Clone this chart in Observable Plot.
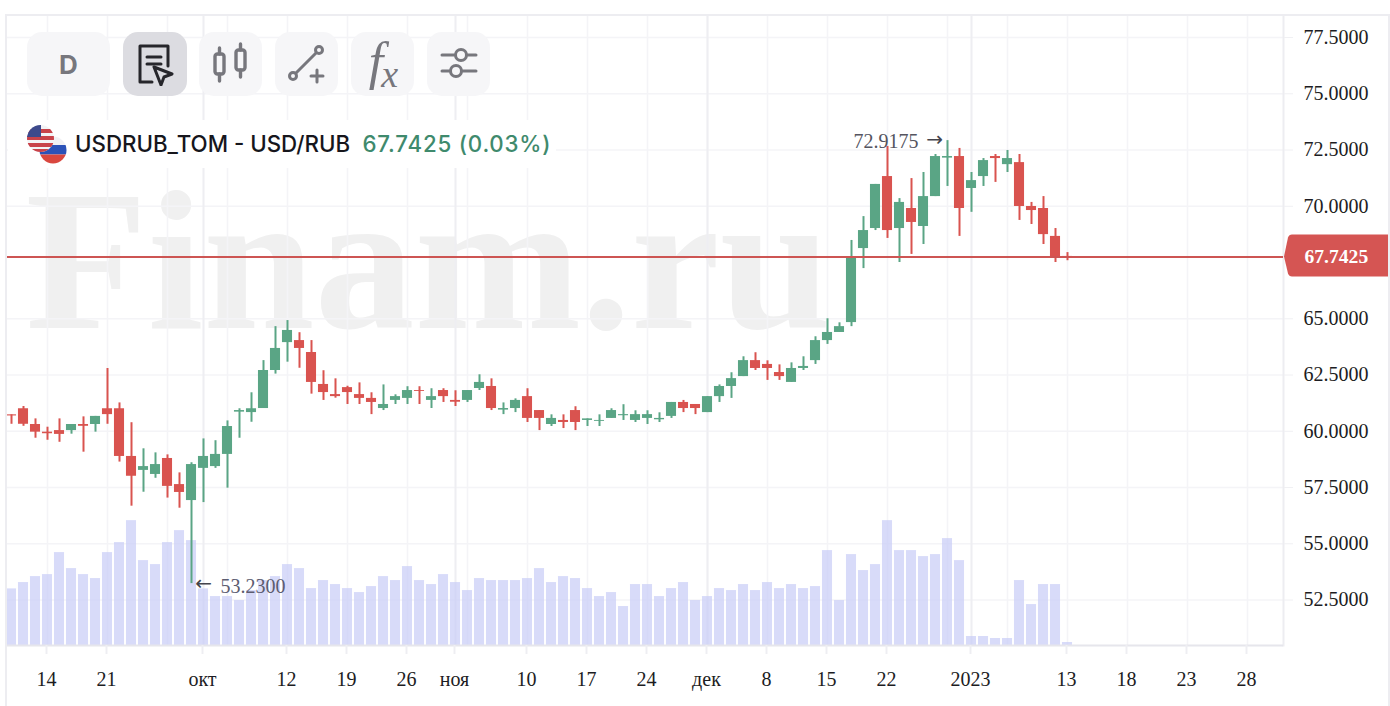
<!DOCTYPE html>
<html><head><meta charset="utf-8">
<script src="https://cdn.jsdelivr.net/npm/d3@7"></script>
<script src="https://cdn.jsdelivr.net/npm/@observablehq/plot@0.6"></script>
<style>
html,body{margin:0;padding:0;background:#fff;overflow:hidden}
#wrap{position:relative;width:1390px;height:706px;font-family:Inter,sans-serif}
#wrap svg{display:block}
.btn{position:absolute;top:32px;width:63px;height:64px;border-radius:15px;background:rgba(245,245,248,.95);display:flex;align-items:center;justify-content:center}
#legend{position:absolute;left:8px;top:120px;width:548px;height:48px;background:#fff;}
#legend .t{position:absolute;left:67px;top:10px;font-size:22.3px;line-height:28px;font-weight:500;color:#16161c;white-space:nowrap}
#legend .v{position:absolute;left:354.5px;top:10px;font-size:22.3px;line-height:28px;font-weight:500;color:#3f8a6d;white-space:nowrap;letter-spacing:.8px}
</style></head><body>
<div id="wrap"></div>
<script>
const open = [60.73,61.00,60.30,59.96,60.03,60.03,60.30,60.30,61.00,61.00,58.88,58.26,58.08,58.79,57.63,56.92,58.35,58.43,58.97,60.85,60.83,61.01,62.70,63.94,64.03,63.50,62.08,61.63,61.94,61.63,61.46,61.01,61.37,61.46,61.81,61.37,61.81,61.37,61.37,61.90,61.99,60.94,61.01,61.54,60.92,60.30,60.48,60.92,60.48,60.44,60.57,60.69,60.48,60.57,60.51,60.66,61.28,61.19,60.83,61.54,61.99,62.43,63.14,62.97,62.61,62.17,62.79,63.14,64.03,64.39,64.83,68.12,69.01,71.32,69.01,69.90,69.10,70.43,72.14,72.21,70.79,71.32,72.21,71.85,71.94,69.99,69.90,68.66,67.77];
const high = [60.73,61.10,60.55,60.18,60.55,60.30,60.64,60.66,62.79,61.26,60.38,59.22,59.04,58.95,58.15,58.60,59.66,59.58,60.46,61.00,61.71,63.14,64.65,64.92,64.38,64.03,62.69,62.33,62.00,62.15,61.71,62.06,61.62,61.98,61.98,61.89,61.89,61.80,61.81,62.51,62.33,61.26,61.44,61.89,60.92,60.73,60.73,61.09,60.55,60.73,61.00,61.18,60.91,60.91,60.82,61.28,61.37,61.19,61.54,62.06,62.60,63.31,63.49,63.13,62.95,63.04,63.31,64.20,65.00,64.82,68.48,69.54,70.97,72.66,70.34,71.23,71.50,72.30,72.9175,72.57,71.50,72.12,72.30,72.48,72.30,70.17,70.43,69.01,67.94];
const low = [60.31,60.22,59.69,59.60,59.51,59.87,59.07,59.96,60.31,58.63,56.67,57.29,57.91,57.03,56.58,53.23,56.83,58.35,57.47,59.69,60.40,61.01,62.54,63.07,62.80,61.65,61.37,61.47,61.19,61.19,60.74,60.92,61.19,61.19,61.19,61.01,61.28,61.10,61.28,61.81,60.92,60.74,60.83,60.39,60.03,60.21,60.12,60.03,60.21,60.21,60.57,60.48,60.39,60.30,60.39,60.57,60.83,60.74,60.83,61.28,61.46,62.43,62.70,62.26,62.26,62.17,62.70,62.97,63.86,64.39,64.65,67.23,68.92,68.57,67.50,67.86,68.30,70.43,70.88,68.66,69.73,70.88,71.06,71.50,69.37,69.19,68.30,67.50,67.58];
const close = [60.68,60.31,59.96,59.89,59.86,60.30,60.22,60.66,60.74,58.88,58.00,58.43,58.52,57.55,57.28,58.52,58.88,58.97,60.21,60.92,61.00,62.70,63.68,64.48,63.68,62.17,61.72,61.54,61.72,61.46,61.28,61.19,61.54,61.81,61.77,61.54,61.54,61.29,61.81,62.17,61.01,61.01,61.37,60.57,60.57,60.57,60.39,60.39,60.55,60.48,60.92,60.74,60.74,60.74,60.57,61.28,61.01,61.01,61.54,61.99,62.34,63.14,62.79,62.79,62.43,62.79,62.88,64.03,64.39,64.65,67.72,68.92,70.97,68.92,70.17,69.28,70.43,72.21,72.21,69.90,71.14,72.03,72.12,72.12,69.99,69.81,68.74,67.72,67.7425];
const volume = [170,189,207,213,279,231,213,201,279,309,375,255,243,309,345,315,170,147,147,135,165,195,207,243,231,171,195,183,171,159,177,207,195,237,195,183,213,189,165,201,195,195,195,201,231,189,207,201,171,147,159,117,183,183,147,171,189,135,147,171,165,183,165,189,171,183,171,177,285,135,273,225,243,375,285,285,267,273,321,255,27,27,21,21,195,123,183,183,9];

const tickIndex = [3,8,16,23,28,33,37,43,48,53,58,63,68,73,80,88,93,98,103];
const tickLabels = ["14","21","окт","12","19","26","ноя","10","17","24","дек","8","15","22","2023","13","18","23","28"];
const weeklyGrid = [3,8,13,18,23,28,33,38,43,48,53,58,63,68,73,78,83,88,93,98,103];
const monthGrid = [16,37,58,80];
const priceTicks = [52.5,55,57.5,60,62.5,65,70,72.5,75,77.5];
const lastPrice = 67.7425, maxPrice = 72.9175, minPrice = 53.23;
const volumeFloor = 50.478, priceUnitsPerVolume = 0.0148;

const candles = open.map((o,i)=>({i,o,h:high[i],l:low[i],c:close[i],v:volume[i],up:close[i]>=o}));
const green="#5aa585", red="#d9534f", serif='"Liberation Serif",serif';

const chart = Plot.plot({
  width:1390,height:706,marginLeft:7,marginRight:107,marginTop:15,marginBottom:61,
  style:{fontFamily:serif,fontSize:"20px",color:"#1c1c22",background:"transparent",overflow:"visible"},
  x:{type:"linear",domain:[-1/3,106],axis:null},
  y:{type:"linear",domain:[volumeFloor,78.478],axis:null},
  marks:[
    Plot.text(["Finam.ru"],{frameAnchor:"top-left",dx:18,dy:248,fontSize:200,fontWeight:700,fontFamily:serif,fill:"#f0f0f0",textAnchor:"start",lineAnchor:"middle"}),
    Plot.gridY(priceTicks,{stroke:"#f4f4f7",strokeOpacity:1,strokeWidth:1.6}),
    Plot.gridX(weeklyGrid,{stroke:"#f4f4f7",strokeOpacity:1,strokeWidth:1.6}),
    Plot.gridX(monthGrid,{stroke:"#eeeef2",strokeOpacity:1,strokeWidth:2}),
    Plot.frame({anchor:"right",stroke:"#ededf1",strokeWidth:2}),
    Plot.rect(candles,{x1:d=>d.i-0.42,x2:d=>d.i+0.42,y1:volumeFloor,y2:d=>volumeFloor+d.v*priceUnitsPerVolume,fill:"#c9cdf6",fillOpacity:.72,inset:0}),
    Plot.ruleY([volumeFloor],{stroke:"#e6e6ec",strokeWidth:2}),
    Plot.ruleX(candles,{x:"i",y1:"l",y2:"h",stroke:d=>d.up?green:red,strokeWidth:2}),
    Plot.rect(candles,{x1:d=>d.i-0.42,x2:d=>d.i+0.42,y1:"o",y2:"c",fill:d=>d.up?green:red,inset:0}),
    Plot.ruleY([lastPrice],{stroke:"#cd5553",strokeWidth:2}),
    Plot.axisX({ticks:tickIndex,tickFormat:d=>tickLabels[tickIndex.indexOf(d)],label:null,tickSize:9,tickPadding:17,stroke:"#eeeef2",strokeWidth:2,fill:"#1c1c22",fontSize:20,dx:-1}),
    Plot.axisY({anchor:"right",ticks:priceTicks,tickFormat:d=>d.toFixed(4),label:null,tickSize:9,tickPadding:11,stroke:"#f0f0f3",fill:"#1c1c22",fontSize:20,textAnchor:"start"}),
    (index,{x,y}) => {
      const yy=y(lastPrice), x0=x(106);
      const g=document.createElementNS("http://www.w3.org/2000/svg","g");
      const p=document.createElementNS("http://www.w3.org/2000/svg","path");
      p.setAttribute("d",`M${x0+1},${yy} L${x0+5},${yy-19} Q${x0+6},${yy-22} ${x0+9},${yy-22} L${x0+105},${yy-22} L${x0+105},${yy+20} L${x0+9},${yy+20} Q${x0+6},${yy+20} ${x0+5},${yy+17} Z`);
      p.setAttribute("fill","#d55553");
      g.appendChild(p);
      return g;
    },
    Plot.text([lastPrice],{x:106,y:d=>d,text:d=>d.toFixed(4),dx:21,textAnchor:"start",fill:"#fff",fontWeight:700,fontSize:19.6}),
    Plot.text([maxPrice],{x:78,y:d=>d,text:d=>d.toFixed(4),dx:-29,dy:1,textAnchor:"end",fill:"#55555f",fontSize:20}),
    Plot.text(["→"],{x:78,y:maxPrice,dx:-13,dy:-1,textAnchor:"middle",fill:"#44444c",fontSize:20,fontFamily:"DejaVu Sans"}),
    Plot.text(["←"],{x:15,y:minPrice,dx:12,textAnchor:"middle",fill:"#44444c",fontSize:20,fontFamily:"DejaVu Sans"}),
    Plot.text([minPrice],{x:15,y:d=>d,text:d=>d.toFixed(4),dx:29,dy:3,textAnchor:"start",fill:"#5c5c70",fontSize:20})
  ]
});
const wrap=document.getElementById("wrap");
wrap.appendChild(chart);
const line=css=>{const d=document.createElement("div");d.style.cssText="position:absolute;background:#ededf1;"+css;wrap.appendChild(d);};
line("left:6px;right:1px;top:14px;height:2px");
line("left:1388px;top:14px;width:2px;height:692px");
line("left:5px;top:14px;width:2px;height:692px");

const gray="#77777d";
const icons=[
 {x:27,w:83,html:`<span style="font:700 26px Inter;color:${gray}">D</span>`},
 {x:123,w:64,bg:"#dcdce1",html:`<svg width="40" height="44" viewBox="0 0 40 44" fill="none" stroke="#26262b" stroke-width="3" stroke-linecap="round" stroke-linejoin="round"><path d="M17 40H5V4h28v20"/><path d="M12 15h14M12 22h14"/><path d="M19 25l18 7-8 3-3 8z"/></svg>`},
 {x:199,w:63,html:`<svg width="40" height="44" viewBox="0 0 40 44" fill="none" stroke="${gray}" stroke-width="3.4" stroke-linecap="round"><rect x="4" y="12" width="9" height="20" rx="2.5"/><rect x="25" y="8" width="9" height="20" rx="2.5"/><path d="M8.5 6v6M8.5 32v7M29.5 2v6M29.5 28v7"/></svg>`},
 {x:275,w:63,html:`<svg width="40" height="44" viewBox="0 0 40 44" fill="none" stroke="${gray}" stroke-width="3" stroke-linecap="round"><circle cx="6" cy="34" r="3.5"/><circle cx="32" cy="8" r="3.5"/><path d="M9 31L29 11M24 34h12M30 28v12"/></svg>`},
 {x:351,w:63,html:`<span style="font:italic 400 52px 'Liberation Serif';color:${gray};letter-spacing:-2px;position:relative;top:-3px">f<span style="font-size:38px;position:relative;top:8px">x</span></span>`},
 {x:427,w:63,html:`<svg width="40" height="44" viewBox="0 0 40 44" fill="none" stroke="${gray}" stroke-width="3" stroke-linecap="round"><path d="M3 13h13M28 13h9M3 29h8M23 29h14"/><circle cx="22" cy="13" r="5.5"/><circle cx="17" cy="29" r="5.5"/></svg>`}
];
for(const ic of icons){
  const b=document.createElement("div");b.className="btn";b.style.left=ic.x+"px";b.style.width=ic.w+"px";
  if(ic.bg)b.style.background=ic.bg;
  b.innerHTML=ic.html;wrap.appendChild(b);
}
const lg=document.createElement("div");lg.id="legend";
lg.innerHTML=`<svg style="position:absolute;left:18px;top:3px" width="44" height="44" viewBox="0 0 44 44">
<defs><clipPath id="us"><circle cx="14.5" cy="15.5" r="13.5"/></clipPath><clipPath id="ru"><circle cx="27" cy="27" r="13.5"/></clipPath></defs>
<g clip-path="url(#ru)"><rect x="13" y="13" width="28" height="9" fill="#f1f1f4"/><rect x="13" y="22" width="28" height="9.5" fill="#2b52b8"/><rect x="13" y="31.5" width="28" height="10" fill="#d9473f"/></g>
<g clip-path="url(#us)"><rect x="1" y="2" width="27" height="27" fill="#f3f3f5"/><rect x="1" y="6" width="27" height="4" fill="#c9434a"/><rect x="1" y="13" width="27" height="4" fill="#c9434a"/><rect x="1" y="20" width="27" height="4" fill="#c9434a"/><rect x="1" y="26" width="27" height="3" fill="#c9434a"/><rect x="1" y="2" width="14" height="12" fill="#3d4a8c"/></g></svg>
<span class="t">USDRUB_TOM - USD/RUB</span><span class="v">67.7425 (0.03%)</span>`;
wrap.appendChild(lg);
</script></body></html>
